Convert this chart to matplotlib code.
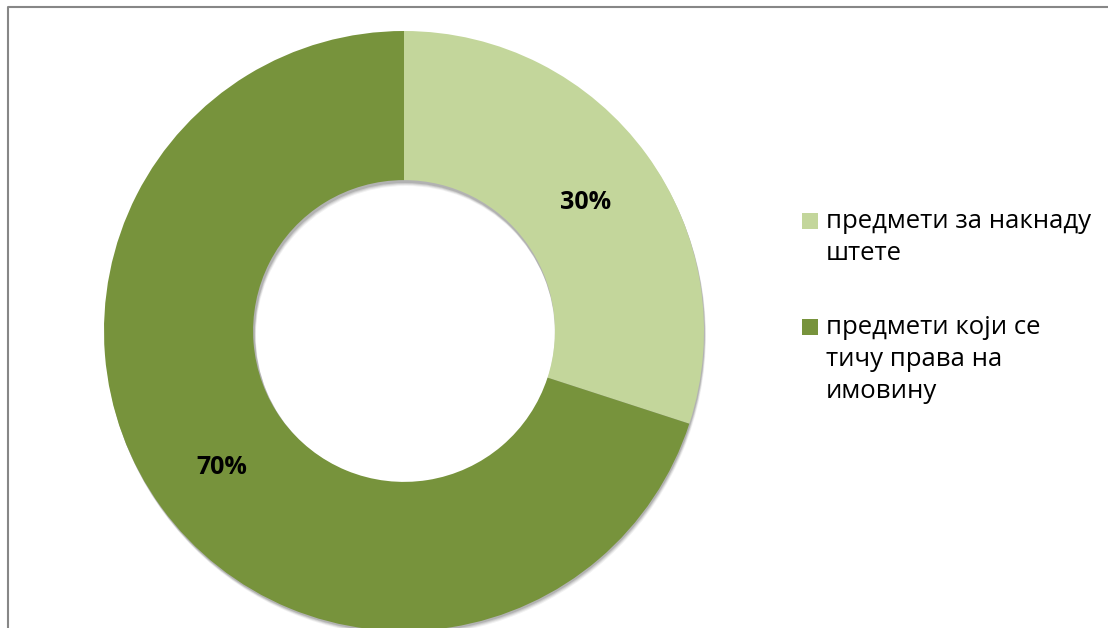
import numpy as np
import matplotlib.pyplot as plt
from matplotlib.patches import Rectangle

plt.rcParams['font.family'] = ['Open Sans', 'DejaVu Sans']

labels = ["предмети за накнаду\nштете", "предмети који се\nтичу права на\nимовину"]
shares = [30, 70]
colors = ['#C3D69B', '#77933C']

W, H = 1108, 628
fig = plt.figure(figsize=(W / 100, H / 100), dpi=100)
ax = fig.add_axes([0, 0, 1, 1])
ax.axis('off')

# chart area frame (only left and top edges fall inside the image)
ax.plot([8, 8, W + 5], [-5, H - 7, H - 7], color='#878787', lw=1.5, solid_capstyle='butt')

cx, cy, r = 404, H - 331, 300

# soft shadow cast below the ring
for k, a in zip([5, 4, 3, 2], [0.05, 0.07, 0.09, 0.12]):
    ax.pie([1], radius=r, center=(cx + k * 0.4, cy - k),
           colors=['#000000'], startangle=90,
           wedgeprops=dict(width=r / 2, alpha=a, linewidth=0))

ax.pie(shares, radius=r, center=(cx, cy), colors=colors,
       startangle=90, counterclock=False,
       wedgeprops=dict(width=r * 0.497, linewidth=0))
ax.set_xlim(0, W)
ax.set_ylim(0, H)
ax.set_aspect('equal')

# percentage labels in the middle of each ring segment
mid_r = r * 0.75
ang = 90.0
for val in shares:
    theta = np.deg2rad(ang - val * 3.6 / 2)
    ang -= val * 3.6
    ax.text(cx + mid_r * np.cos(theta), cy + mid_r * np.sin(theta) - 4, f"{val}%",
            ha='center', va='center', fontsize=18, fontweight='bold', color='#000000')

# legend: square marker next to the first line of each wrapped label
line_h = 32
y = H - 228
for lab, c in zip(labels, colors):
    ax.add_patch(Rectangle((802, y - 1), 16, 16, facecolor=c, edgecolor='none'))
    for line in lab.split('\n'):
        ax.text(826, y, line, ha='left', va='baseline', fontsize=18.5, color='#000000')
        y -= line_h
    y -= 74 - line_h

fig.savefig('out.png', dpi=100)
